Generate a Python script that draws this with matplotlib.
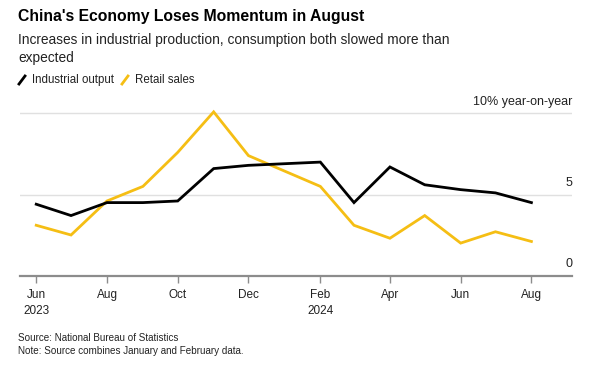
import matplotlib
matplotlib.use("Agg")
import matplotlib.pyplot as plt
from matplotlib.lines import Line2D
import datetime as dt

months = ["2023-06", "2023-07", "2023-08", "2023-09", "2023-10", "2023-11", "2023-12",
          "2024-02", "2024-03", "2024-04", "2024-05", "2024-06", "2024-07", "2024-08"]
industrial_output = [4.4, 3.7, 4.5, 4.5, 4.6, 6.6, 6.8, 7.0, 4.5, 6.7, 5.6, 5.3, 5.1, 4.5]
retail_sales = [3.1, 2.5, 4.6, 5.5, 7.6, 10.1, 7.4, 5.5, 3.1, 2.3, 3.7, 2.0, 2.7, 2.1]
tick_months = ["2023-06", "2023-08", "2023-10", "2023-12", "2024-02", "2024-04", "2024-06", "2024-08"]
tick_labels = ["Jun\n2023", "Aug", "Oct", "Dec", "Feb\n2024", "Apr", "Jun", "Aug"]
y_ticks = [0, 5, 10]
y_labels = ["0", "5", "10% year-on-year"]

def to_date(s):
    y, m = s.split("-")
    return dt.date(int(y), int(m), 1)

dates = [to_date(s) for s in months]
tdates = [to_date(s) for s in tick_months]

plt.rcParams['font.family'] = ['Liberation Sans', 'DejaVu Sans']
BLACK = "#000000"
YELLOW = "#F5BE14"
GRID = "#e0e0e0"
AXIS = "#8c8c8c"
TXT = "#222222"

W, H = 615, 365
fig = plt.figure(figsize=(W / 100, H / 100), dpi=100)
ax_left, ax_right = 20 / W, 572 / W
ax_bottom = 1 - 275.5 / H
ax_top = 1 - 105.4 / H
ax = fig.add_axes([ax_left, ax_bottom, ax_right - ax_left, ax_top - ax_bottom])

ax.plot(dates, retail_sales, color=YELLOW, lw=2.0, solid_joinstyle='miter', zorder=3, clip_on=False)
ax.plot(dates, industrial_output, color=BLACK, lw=2.0, solid_joinstyle='miter', zorder=4, clip_on=False)

ax.set_xlim(dt.date(2023, 5, 18), dt.date(2024, 9, 5))
ax.set_ylim(0, 10.5)

for v in y_ticks[1:]:
    ax.axhline(v, color=GRID, lw=1.0, zorder=1)
ax.set_yticks([])
for v, lab in zip(y_ticks, y_labels):
    ax.text(1.0, v + 0.35, lab, transform=ax.get_yaxis_transform(), ha='right', va='bottom',
            fontsize=9, color=TXT)

for s in ["top", "right", "left"]:
    ax.spines[s].set_visible(False)
ax.spines["bottom"].set_color(AXIS)
ax.spines["bottom"].set_linewidth(1.6)
ax.spines["bottom"].set_zorder(2)

ax.set_xticks(tdates)
ax.set_xticklabels(tick_labels, fontsize=8.5, color=TXT, linespacing=1.45)
ax.tick_params(axis='x', length=5, width=1, color=AXIS, pad=5)
for lab in ax.get_xticklabels():
    lab.set_ha('center')

fig.text(18 / W, 1 - 16 / H, "China's Economy Loses Momentum in August", fontsize=11.3,
         fontweight='bold', ha='left', va='center', color="#000000")
fig.text(18 / W, 1 - 40 / H, "Increases in industrial production, consumption both slowed more than",
         fontsize=9.9, ha='left', va='center', color=TXT)
fig.text(18 / W, 1 - 58 / H, "expected",
         fontsize=9.9, ha='left', va='center', color=TXT)

# legend
ly = 1 - 80 / H
def slash(x0, color):
    fig.add_artist(Line2D([x0 / W, (x0 + 6) / W], [ly - 4 / H, ly + 4 / H], color=color, lw=2.0,
                          transform=fig.transFigure))
slash(19, BLACK)
fig.text(32 / W, ly, "Industrial output", fontsize=8.3, ha='left', va='center', color=TXT)
slash(122, YELLOW)
fig.text(135 / W, ly, "Retail sales", fontsize=8.3, ha='left', va='center', color=TXT)

fig.text(18 / W, 1 - 338 / H, "Source: National Bureau of Statistics", fontsize=7.1,
         ha='left', va='center', color=TXT)
fig.text(18 / W, 1 - 351 / H, "Note: Source combines January and February data.", fontsize=7.1,
         ha='left', va='center', color=TXT)

fig.savefig("out.png", dpi=100, facecolor="white")
